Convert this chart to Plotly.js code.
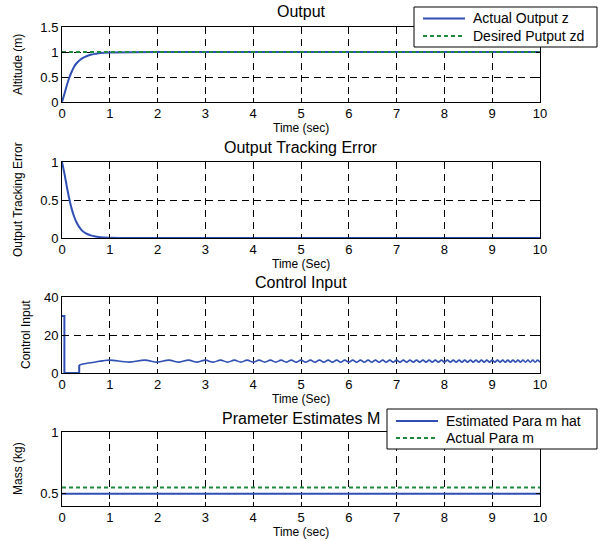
<!DOCTYPE html>
<html>
<head>
<meta charset="utf-8">
<script src="https://cdn.plot.ly/plotly-3.0.1.min.js"></script>
<style>html,body{margin:0;padding:0;background:#fff;}#chart{width:604px;height:541px;}</style>
</head>
<body>
<div id="chart"></div>
<script>
// ---- data ----
const xTicks = [0,1,2,3,4,5,6,7,8,9,10];

// Panel 1: Output
const tOut = [0,0.05,0.1,0.15,0.2,0.25,0.3,0.4,0.5,0.6,0.7,0.8,1.0,2,10];
const zActual = [0,0.16,0.33,0.48,0.6,0.7,0.77,0.86,0.91,0.945,0.965,0.98,0.99,1.0,1.0];
const tDesired = [0,10];
const zDesired = [1,1];

// Panel 2: Output tracking error
const tErr = [0,0.05,0.1,0.15,0.2,0.25,0.3,0.4,0.5,0.6,0.7,0.8,1.0,2,10];
const err = [1,0.85,0.68,0.52,0.39,0.29,0.21,0.11,0.06,0.035,0.02,0.01,0.003,0,0];

// Panel 3: Control input
const tUStart = [0,0.05,0.05,0.36,0.36];
const uStart = [30,30,0,0,4.2];
const tU = [0.36,0.5,0.7,0.85,1.000,1.414,1.732,2.000,2.236,2.449,2.646,2.828,3.000,3.162,3.317,3.464,3.606,3.742,3.873,4.000,4.123,4.243,4.359,4.472,4.583,4.690,4.796,4.899,5.000,5.099,5.196,5.292,5.385,5.477,5.568,5.657,5.745,5.831,5.916,6.000,6.083,6.164,6.245,6.325,6.403,6.481,6.557,6.633,6.708,6.782,6.856,6.928,7.000,7.071,7.141,7.211,7.280,7.348,7.416,7.483,7.550,7.616,7.681,7.746,7.810,7.874,7.937,8.000,8.062,8.124,8.185,8.246,8.307,8.367,8.426,8.485,8.544,8.602,8.660,8.718,8.775,8.832,8.888,8.944,9.000,9.055,9.110,9.165,9.220,9.274,9.327,9.381,9.434,9.487,9.539,9.592,9.644,9.695,9.747,9.798,9.849,9.899,9.950,10.000];
const u = [4.2,5.0,5.8,6.4,6.8,5.7,6.8,5.7,6.8,5.7,6.8,5.7,6.8,5.7,6.8,5.7,6.8,5.7,6.8,5.7,6.8,5.7,6.8,5.7,6.8,5.7,6.8,5.7,6.8,5.7,6.8,5.7,6.8,5.7,6.8,5.7,6.8,5.7,6.8,5.7,6.8,5.7,6.8,5.7,6.8,5.7,6.8,5.7,6.8,5.7,6.8,5.7,6.8,5.7,6.8,5.7,6.8,5.7,6.8,5.7,6.8,5.7,6.8,5.7,6.8,5.7,6.8,5.7,6.8,5.7,6.8,5.7,6.8,5.7,6.8,5.7,6.8,5.7,6.8,5.7,6.8,5.7,6.8,5.7,6.8,5.7,6.8,5.7,6.8,5.7,6.8,5.7,6.8,5.7,6.8,5.7,6.8,5.7,6.8,5.7,6.8,5.7,6.8,5.7];

// Panel 4: Parameter estimates
const tM = [0,10];
const mHat = [0.5,0.5];
const mActual = [0.55,0.55];

// Legend labels
const legend1Labels = ['Actual Output z','Desired Putput zd'];
const legend2Labels = ['Estimated Para m hat','Actual Para m'];

// ---- styling ----
const BLUE = '#2f4fb5';
const GREEN = '#1c8a3a';
const DASH_G = '4px,3px';
const FONT = 'Liberation Sans, Arial, sans-serif';
const W = 604, H = 541;
const xl = 62/W, xr = 540/W;
function yd(topPx, botPx){ return [1 - botPx/H, 1 - topPx/H]; }
const px = v => v/W, py = v => 1 - v/H;

const traces = [
  {x: tOut, y: zActual, xaxis:'x', yaxis:'y', mode:'lines', name:legend1Labels[0], line:{color:BLUE,width:2,shape:'spline'}},
  {x: tDesired, y: zDesired, xaxis:'x', yaxis:'y', mode:'lines', name:legend1Labels[1], line:{color:GREEN,width:2,dash:DASH_G}},
  {x: tErr, y: err, xaxis:'x2', yaxis:'y2', mode:'lines', line:{color:BLUE,width:2,shape:'spline'}},
  {x: tUStart, y: uStart, xaxis:'x3', yaxis:'y3', mode:'lines', line:{color:BLUE,width:2}},
  {x: tU, y: u, xaxis:'x3', yaxis:'y3', mode:'lines', line:{color:BLUE,width:1.6,shape:'spline'}},
  {x: tM, y: mHat, xaxis:'x4', yaxis:'y4', mode:'lines', name:legend2Labels[0], line:{color:BLUE,width:2}},
  {x: tM, y: mActual, xaxis:'x4', yaxis:'y4', mode:'lines', name:legend2Labels[1], line:{color:GREEN,width:2,dash:DASH_G}}
];

function xAxis(anchor){
  return {domain:[xl,xr], anchor:anchor, range:[0,10], tickvals:xTicks, ticktext:xTicks.map(String),
    ticks:'inside', ticklen:4, tickcolor:'#000', showline:true, linecolor:'#000', linewidth:1, mirror:'ticks',
    showgrid:true, gridcolor:'#000', gridwidth:1, griddash:'7px,5px', zeroline:false, ticklabelstandoff:-1,
    tickfont:{family:FONT,size:13,color:'#000'}, fixedrange:true};
}
function yAxis(anchor, dom, range, tv){
  return {domain:dom, anchor:anchor, range:range, tickvals:tv, ticktext:tv.map(String),
    ticks:'inside', ticklen:4, tickcolor:'#000', showline:true, linecolor:'#000', linewidth:1, mirror:'ticks',
    showgrid:true, gridcolor:'#000', gridwidth:1, griddash:'7px,5px', zeroline:false,
    tickfont:{family:FONT,size:13,color:'#000'}, fixedrange:true};
}

function ann(text, xPx, yPx, size, angle, anchor){
  return {text:text, xref:'paper', yref:'paper', x:px(xPx), y:py(yPx), xanchor:anchor||'center', yanchor:'middle',
    showarrow:false, textangle:angle||0, font:{family:FONT,size:size,color:'#000'}};
}

// Legend boxes (drawn as paper shapes + annotations)
function legendBox(x0, x1, y0, y1, rows, labels){
  const shapes = [{type:'rect', xref:'paper', yref:'paper', x0:px(x0), x1:px(x1), y0:py(y1), y1:py(y0),
    fillcolor:'#fff', line:{color:'#000',width:1}, layer:'above'}];
  const anns = [];
  const styles = [{color:BLUE,width:2}, {color:GREEN,width:2,dash:DASH_G}];
  rows.forEach((ry,i)=>{
    shapes.push({type:'line', xref:'paper', yref:'paper', x0:px(x0+9), x1:px(x0+51), y0:py(ry), y1:py(ry), line:styles[i], layer:'above'});
    anns.push(ann(labels[i], x0+57, ry, 14, 0, 'left'));
  });
  return {shapes, anns};
}
const L1 = legendBox(414, 597, 7, 47, [18.5, 36], legend1Labels);
const L2 = legendBox(387, 597, 409, 449, [421, 438], legend2Labels);

const layout = {
  width:W, height:H, margin:{l:0,r:0,t:0,b:0}, paper_bgcolor:'#fff', plot_bgcolor:'#fff',
  font:{family:FONT,color:'#000'}, showlegend:false,
  xaxis: xAxis('y'), yaxis: yAxis('x', yd(27,102), [0,1.5], [0,0.5,1,1.5]),
  xaxis2: xAxis('y2'), yaxis2: yAxis('x2', yd(162,238), [0,1], [0,0.5,1]),
  xaxis3: xAxis('y3'), yaxis3: yAxis('x3', yd(297,373), [0,40], [0,20,40]),
  xaxis4: xAxis('y4'), yaxis4: yAxis('x4', yd(432,506), [0.4,1], [0.5,1]),
  shapes: L1.shapes.concat(L2.shapes),
  annotations: [
    ann('Output', 301, 12, 16),
    ann('Time (sec)', 301, 128, 12),
    ann('Output Tracking Error', 301, 147, 16),
    ann('Time (Sec)', 301, 264, 12),
    ann('Control Input', 301, 282, 16),
    ann('Time (Sec)', 301, 399, 12),
    ann('Prameter Estimates M', 301, 418, 16),
    ann('Time (sec)', 301, 532, 12),
    ann('Altitude (m)', 18, 65, 12, -90),
    ann('Output Tracking Error', 18, 200, 12, -90),
    ann('Control Input', 26, 335, 12, -90),
    ann('Mass (kg)', 18, 469, 12, -90)
  ].concat(L1.anns, L2.anns)
};

Plotly.newPlot('chart', traces, layout, {staticPlot:true, displayModeBar:false});
</script>
</body>
</html>
